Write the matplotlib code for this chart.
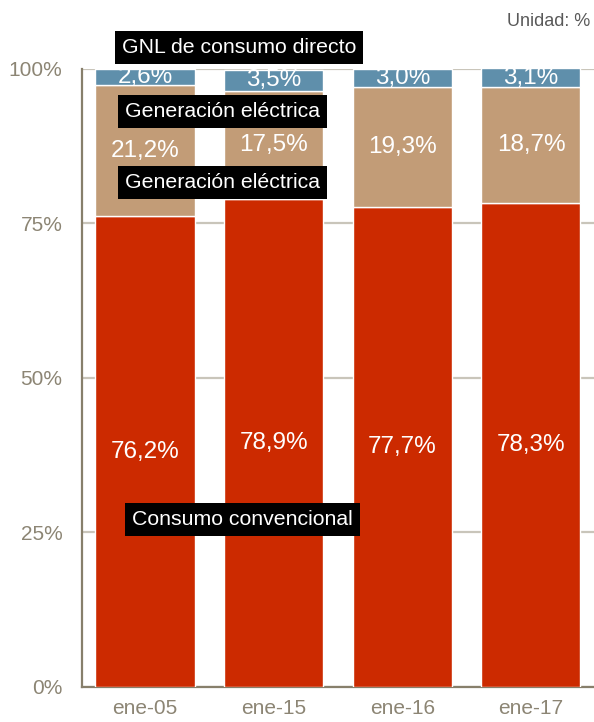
import numpy as np
import matplotlib
matplotlib.use("Agg")
import matplotlib.pyplot as plt

plt.rcParams["font.family"] = ["Liberation Sans", "DejaVu Sans"]

# -----------------------------
# Data
# -----------------------------
periods = ["ene-05", "ene-15", "ene-16", "ene-17"]
convencional = [76.2, 78.9, 77.7, 78.3]
generacion = [21.2, 17.5, 19.3, 18.7]
gnl_directo = [2.6, 3.5, 3.0, 3.1]
y_ticks = [0, 25, 50, 75, 100]
y_tick_labels = ["0%", "25%", "50%", "75%", "100%"]

red = "#CC2A00"
tan = "#C29C77"
blue = "#5F8FAB"
axis_color = "#877F6B"
tick_color = "#8C8574"

fig = plt.figure(figsize=(5.94, 7.22), dpi=100)
ax = fig.add_axes([0.138, 0.0485, 0.862, 0.856])

x = np.arange(len(periods))
width = 0.77

ax.bar(x, convencional, width, color=red, edgecolor="white", linewidth=1, zorder=3)
ax.bar(x, generacion, width, bottom=convencional, color=tan,
       edgecolor="white", linewidth=1, zorder=3)
bottom2 = np.array(convencional) + np.array(generacion)
ax.bar(x, gnl_directo, width, bottom=bottom2, color=blue,
       edgecolor="white", linewidth=1, zorder=3)

# value labels (centred in each segment, clipped at the top of the axes)
for i in range(len(periods)):
    segs = [(0, convencional[i]),
            (convencional[i], generacion[i]),
            (bottom2[i], gnl_directo[i])]
    for base, val in segs:
        ax.text(x[i], base + val / 2, f"{val:.1f}%".replace(".", ","),
                ha="center", va="center", color="white", fontsize=17.5,
                zorder=4, clip_on=True)

ax.set_xlim(-0.49, 3.49)
ax.set_ylim(0, 100)
ax.set_yticks(y_ticks)
ax.set_yticklabels(y_tick_labels)
ax.set_xticks(x)
ax.set_xticklabels(periods)
ax.tick_params(axis="both", length=0, colors=tick_color, labelsize=15)
ax.tick_params(axis="y", pad=14)
ax.tick_params(axis="x", pad=9)

ax.grid(axis="y", color="#C9C5BA", linewidth=1.6, zorder=0)
ax.set_axisbelow(True)
for side in ["top", "right"]:
    ax.spines[side].set_visible(False)
for side in ["left", "bottom"]:
    ax.spines[side].set_color(axis_color)
    ax.spines[side].set_linewidth(1.6)

# black label boxes
box = dict(boxstyle="square,pad=0.32", fc="black", ec="none")
labels = [
    ("GNL de consumo directo", 239, 47.5),
    ("Generación eléctrica", 222.5, 111.5),
    ("Generación eléctrica", 222.5, 182.5),
    ("Consumo convencional", 242.5, 519.5),
]
for txt, px, py in labels:
    fig.text(px / 594, 1 - py / 722, txt, ha="center", va="center",
             color="white", fontsize=15.3, bbox=box, zorder=10)

fig.text(590 / 594, 1 - 22 / 722, "Unidad: %", ha="right", va="center",
         color="#595959", fontsize=13)

fig.savefig("out.png", dpi=100)
